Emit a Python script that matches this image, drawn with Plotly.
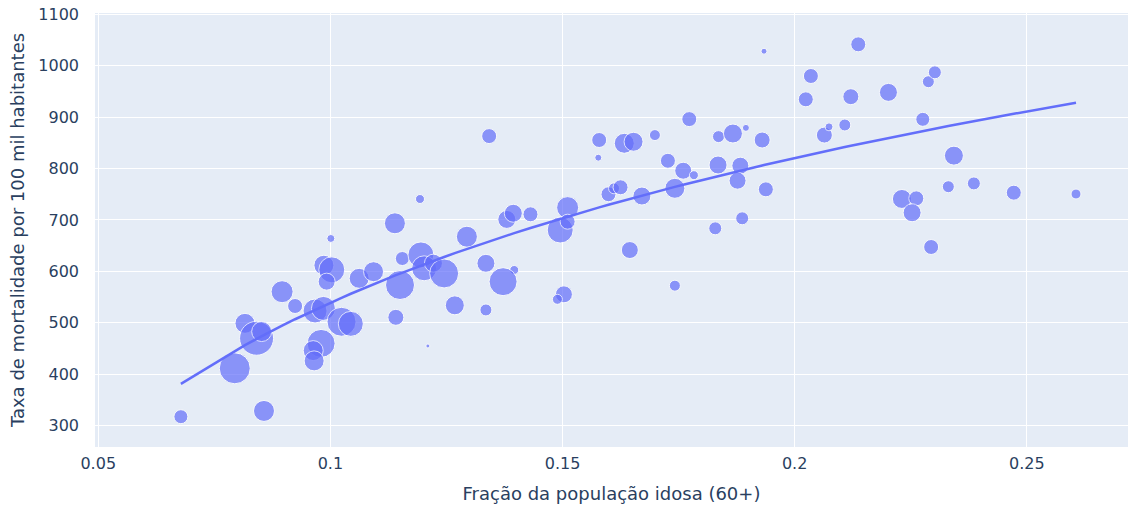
import numpy as np
import plotly.graph_objects as go

# Fração da população idosa (60+)
frac_idosos = [
    0.0678, 0.0794, 0.0816, 0.0841, 0.0852, 0.0857, 0.0896, 0.0924, 0.0967, 0.0985,
    0.0986, 0.1003, 0.0992, 0.1001, 0.0980, 0.0963, 0.0965, 0.1024, 0.1044, 0.1062,
    0.1093, 0.1150, 0.1141, 0.1155, 0.1195, 0.1202, 0.1222, 0.1245, 0.1268, 0.1210,
    0.1342, 0.1193, 0.1139, 0.1294, 0.1335, 0.1396, 0.1372, 0.1335, 0.1380, 0.1394,
    0.1431, 0.1511, 0.1495, 0.1511, 0.1503, 0.1489, 0.1645, 0.1579, 0.1577, 0.1633,
    0.1653, 0.1599, 0.1611, 0.1625, 0.1671, 0.1773, 0.1699, 0.1727, 0.1760, 0.1783,
    0.1742, 0.1836, 0.1867, 0.1895, 0.1930, 0.1835, 0.1883, 0.1877, 0.1938, 0.1829,
    0.1887, 0.1742, 0.2024, 0.1934, 0.2137, 0.2035, 0.2121, 0.2202, 0.2288, 0.2302,
    0.2276, 0.2064, 0.2074, 0.2108, 0.2231, 0.2262, 0.2253, 0.2343, 0.2331, 0.2386,
    0.2472, 0.2606, 0.2294,
]

# Taxa de mortalidade por 100 mil habitantes
taxa_mortalidade = [
    317.5, 411.6, 499.0, 470.0, 483.0, 328.7, 560.5, 532.7, 523.0, 528.0,
    612.0, 603.0, 580.0, 664.0, 460.0, 446.0, 426.0, 502.0, 498.0, 586.5,
    599.4, 573.5, 510.7, 625.0, 632.0, 606.0, 616.0, 596.0, 534.0, 455.0,
    863.0, 740.7, 693.5, 667.4, 615.7, 602.7, 580.0, 525.0, 701.0, 713.0,
    711.0, 724.0, 680.4, 696.6, 555.4, 545.7, 641.5, 855.4, 821.0, 849.0,
    852.0, 750.0, 761.5, 763.5, 746.5, 896.0, 865.0, 815.0, 795.7, 787.0,
    761.5, 862.0, 868.0, 879.0, 855.4, 806.8, 805.5, 776.3, 759.5, 683.7,
    703.2, 572.2, 934.5, 1028.0, 1041.4, 979.8, 939.6, 948.0, 968.7, 987.0,
    895.6, 865.0, 881.0, 884.6, 740.8, 742.0, 714.0, 825.0, 764.6, 771.0,
    753.0, 750.4, 647.4,
]

# População (mil habitantes) -> tamanho da bolha
populacao = [
    196, 961, 400, 1156, 400, 441, 484, 225, 576, 576,
    400, 676, 289, 64, 784, 400, 400, 841, 625, 400,
    400, 841, 256, 196, 676, 625, 324, 841, 361, 16,
    225, 81, 441, 441, 324, 81, 784, 144, 324, 324,
    225, 484, 676, 225, 289, 100, 289, 225, 49, 400,
    361, 225, 121, 225, 324, 225, 121, 225, 289, 81,
    400, 144, 361, 49, 256, 324, 289, 289, 225, 169,
    169, 121, 225, 36, 225, 225, 256, 324, 144, 169,
    196, 256, 64, 144, 361, 225, 324, 361, 144, 169,
    225, 100, 225,
]

cor = "#636efa"
tam_max = 34
sizeref = 2.0 * max(populacao) / (tam_max ** 2)

# Tendência: MQO de y sobre log(x)
x = np.array(frac_idosos)
y = np.array(taxa_mortalidade)
b, a = np.polyfit(np.log(x), y, 1)
xs = np.sort(x)
ys = a + b * np.log(xs)

fig = go.Figure()
fig.add_trace(go.Scatter(
    x=frac_idosos, y=taxa_mortalidade, mode="markers",
    marker=dict(size=populacao, sizemode="area", sizeref=sizeref,
                color=cor, opacity=0.7, line=dict(width=1, color="white")),
    showlegend=False,
))
fig.add_trace(go.Scatter(
    x=xs, y=ys, mode="lines", line=dict(color=cor, width=2.5), showlegend=False,
))

fig.update_layout(
    template="plotly",
    width=1128, height=507,
    margin=dict(l=95, r=0, t=13, b=60, autoexpand=False),
    font=dict(family="DejaVu Sans, Verdana, sans-serif", size=16, color="#2a3f5f"),
    xaxis=dict(title=dict(text="Fração da população idosa (60+)", font=dict(size=18)),
               range=[0.0493, 0.2718], tickvals=[0.05, 0.1, 0.15, 0.2, 0.25],
               ticktext=["0.05", "0.1", "0.15", "0.2", "0.25"], automargin=False,
               ticklabelstandoff=5),
    yaxis=dict(title=dict(text="Taxa de mortalidade por 100 mil habitantes",
                          font=dict(size=18), standoff=8),
               range=[258.6, 1102.3], dtick=100, automargin=False,
               ticklabelstandoff=15, ticklabeloverflow="allow"),
)

fig.write_html("out.html", config={"displayModeBar": False},
               post_script="document.body.style.margin='0';")
